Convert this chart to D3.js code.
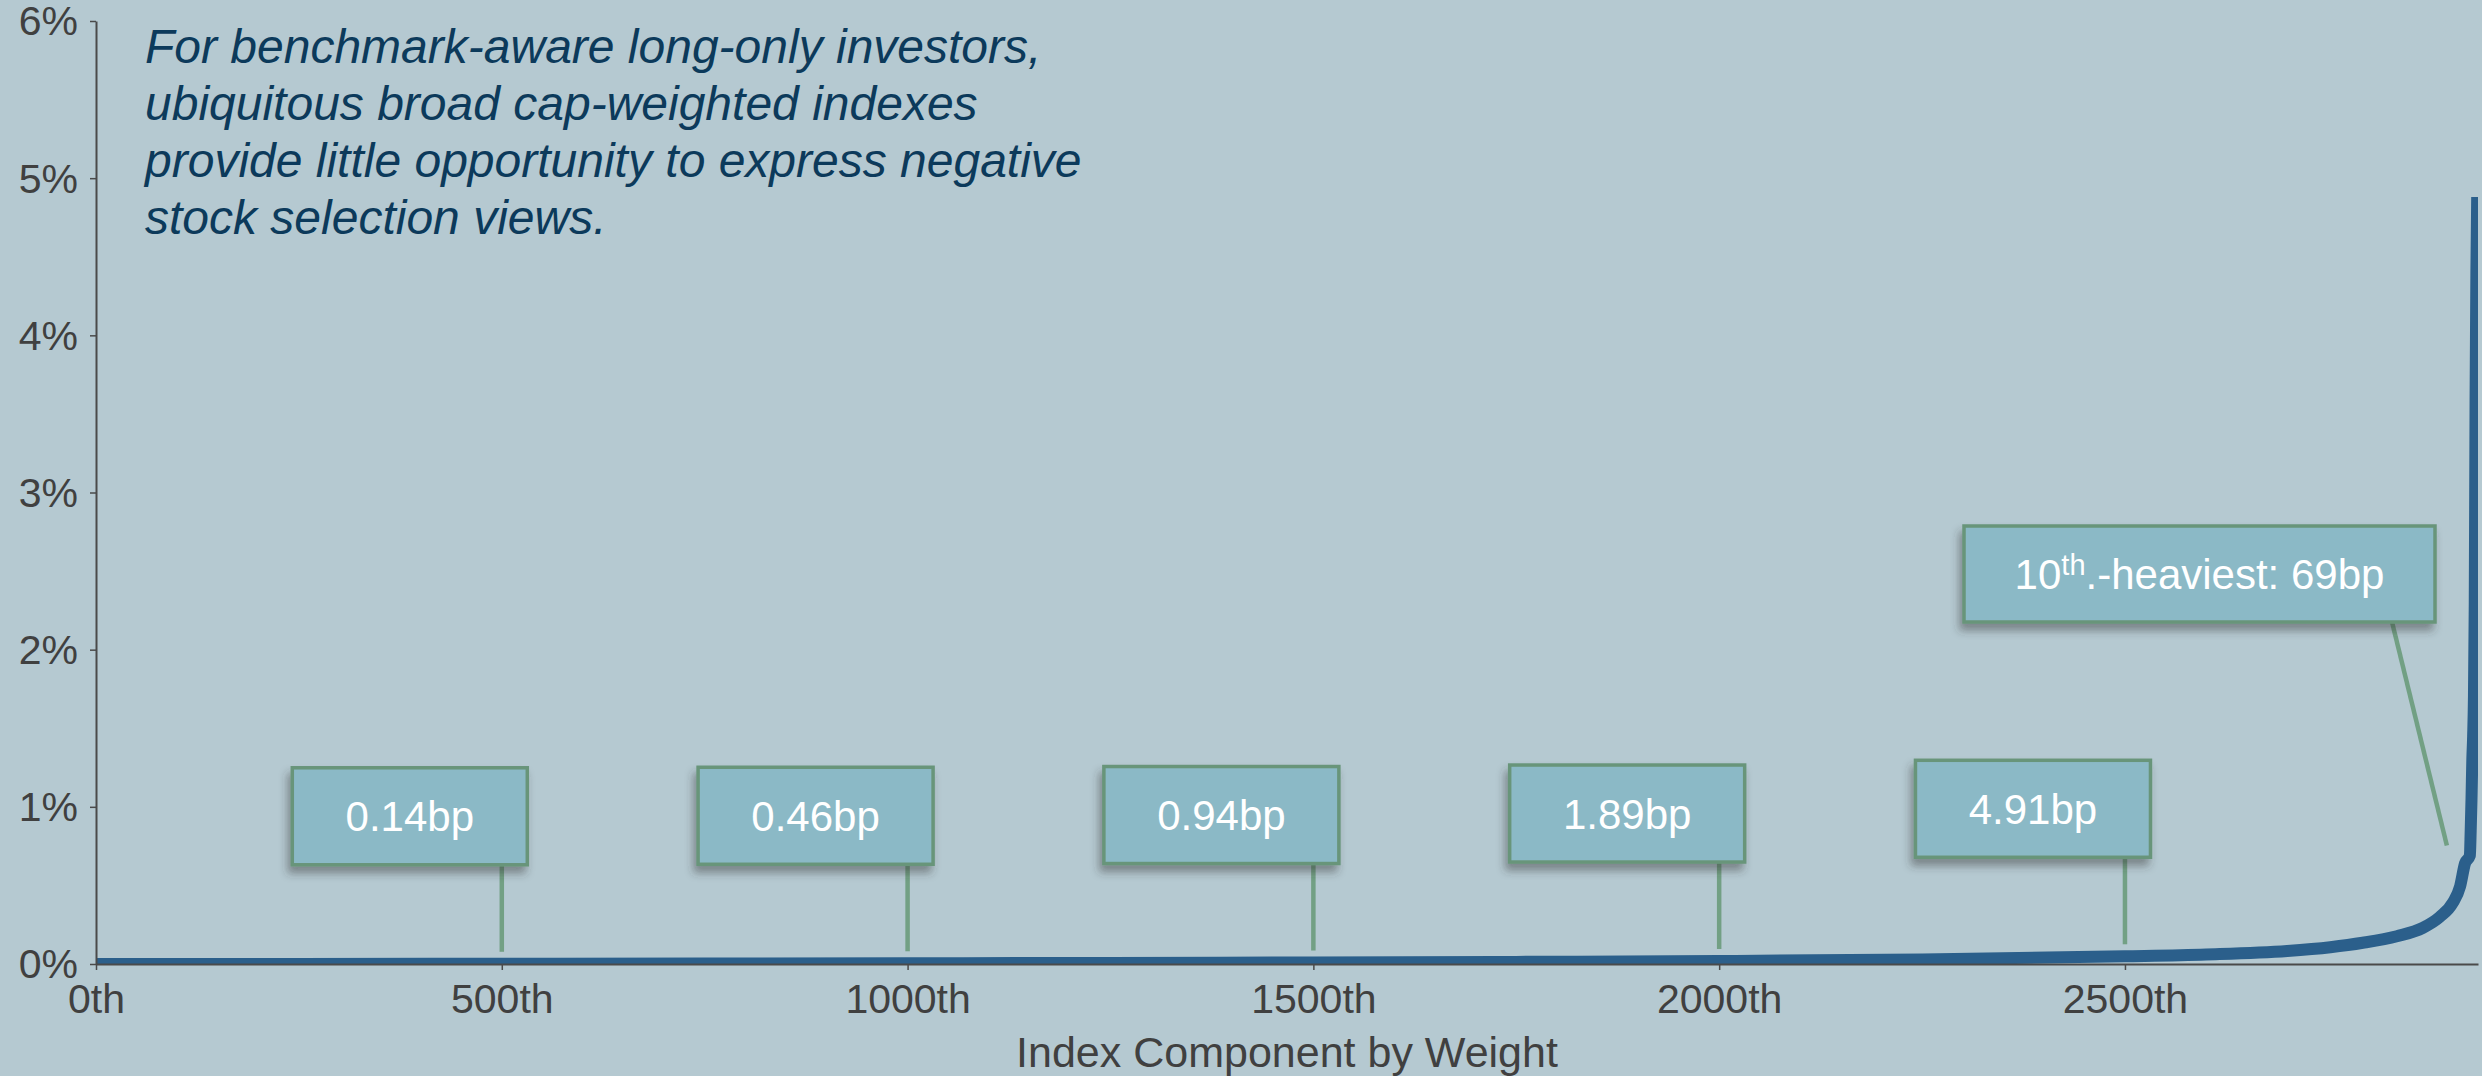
<!DOCTYPE html>
<html>
<head>
<meta charset="utf-8">
<script src="https://cdn.jsdelivr.net/npm/d3@7"></script>
<style>
  html, body { margin: 0; padding: 0; background: #b5c9d1; }
  svg { display: block; }
  text { font-family: "Liberation Sans", Arial, sans-serif; }
</style>
</head>
<body>
<svg id="chart" width="2482" height="1076"></svg>
<script>
// ---- data ----
const componentRank = [0, 250, 500, 750, 1000, 1250, 1500, 1750, 2000, 2250, 2500, 2600, 2700, 2753, 2793, 2835, 2867, 2888, 2904, 2913, 2919, 2925, 2926, 2927, 2928, 2929, 2930, 2931, 2932, 2933, 2934];
const componentWeight = [0.0001, 0.0006, 0.0014, 0.0028, 0.0046, 0.0068, 0.0094, 0.0135, 0.0189, 0.029, 0.0491, 0.061, 0.083, 0.107, 0.135, 0.177, 0.23, 0.30, 0.39, 0.495, 0.64, 0.69, 0.85, 1.05, 1.3, 1.45, 1.7, 2.3, 3.6, 4.4, 4.88];
const xTicks = [0, 500, 1000, 1500, 2000, 2500];
const xTickLabels = ["0th", "500th", "1000th", "1500th", "2000th", "2500th"];
const yTicks = [0, 1, 2, 3, 4, 5, 6];
const yTickLabels = ["0%", "1%", "2%", "3%", "4%", "5%", "6%"];
const calloutRank = [500, 1000, 1500, 2000, 2500];
const calloutWeight = [0.0014, 0.0046, 0.0094, 0.0189, 0.0491];
const calloutLabel = ["0.14bp", "0.46bp", "0.94bp", "1.89bp", "4.91bp"];
const heavyRank = 2925;
const heavyWeight = 0.69;
const heavyLabelMain = "10";
const heavyLabelSup = "th";
const heavyLabelRest = ".-heaviest: 69bp";
const noteLines = [
  "For benchmark-aware long-only investors,",
  "ubiquitous broad cap-weighted indexes",
  "provide little opportunity to express negative",
  "stock selection views."
];
const xTitle = "Index Component by Weight";

// ---- layout ----
const pLeft = 96, pRight = 2478, pTop = 21, pBottom = 964;
const svg = d3.select("#chart");
const x = d3.scaleLinear().domain([0, 2935]).range([pLeft, pRight]);
const y = d3.scaleLinear().domain([0, 6]).range([pBottom, pTop]);

const defs = svg.append("defs");
defs.append("clipPath").attr("id", "plotclip")
  .append("rect").attr("x", pLeft).attr("y", 0).attr("width", pRight - pLeft).attr("height", pBottom);
const f = defs.append("filter").attr("id", "shadow").attr("x", "-20%").attr("y", "-20%").attr("width", "140%").attr("height", "160%");
f.append("feDropShadow").attr("dx", -3).attr("dy", 7).attr("stdDeviation", 4)
  .attr("flood-color", "#333").attr("flood-opacity", 0.45);

// background
svg.append("rect").attr("width", 2482).attr("height", 1076).attr("fill", "#b5c9d1");

// note text
const note = svg.append("text")
  .attr("font-style", "italic").attr("font-size", 48).attr("fill", "#0c3a5b");
noteLines.forEach((t, i) => {
  note.append("tspan").attr("x", 145).attr("y", 63 + i * 57).text(t);
});

// curve
const pts = componentRank.map((r, i) => [r, componentWeight[i]]);
svg.append("path")
  .datum(pts)
  .attr("clip-path", "url(#plotclip)")
  .attr("fill", "none")
  .attr("stroke", "#2b5f8b")
  .attr("stroke-width", 12)
  .attr("stroke-linejoin", "round")
  .attr("d", d3.line().x(d => x(d[0])).y(d => y(d[1])).curve(d3.curveMonotoneX));

// axes
const axisColor = "#4a4a4a";
const gx = svg.append("g").attr("transform", `translate(0,${pBottom})`)
  .call(d3.axisBottom(x).tickValues(xTicks).tickFormat((d, i) => xTickLabels[i]).tickSize(6).tickSizeOuter(0).tickPadding(14));
const gy = svg.append("g").attr("transform", `translate(${pLeft},0)`)
  .call(d3.axisLeft(y).tickValues(yTicks).tickFormat((d, i) => yTickLabels[i]).tickSize(6).tickSizeOuter(0).tickPadding(12));
[gx, gy].forEach(g => {
  g.select(".domain").attr("stroke", axisColor).attr("stroke-width", 2);
  g.selectAll(".tick line").attr("stroke", axisColor).attr("stroke-width", 1.5);
  g.selectAll(".tick text").attr("fill", "#404040").attr("font-size", 41)
    .attr("font-family", "'Liberation Sans', Arial, sans-serif");
});
gx.selectAll(".tick text").attr("dy", "0.71em");
gy.selectAll(".tick text").attr("dy", "0.34em");

svg.append("text")
  .attr("x", (pLeft + pRight) / 2).attr("y", 1067)
  .attr("text-anchor", "middle").attr("font-size", 43).attr("fill", "#404040")
  .text(xTitle);

// callouts
const boxFill = "#8bb9c6", boxStroke = "#68957a", leadColor = "#72a084";
const bw = 235, bh = 97;
calloutRank.forEach((r, i) => {
  const lx = x(r);
  const ly2 = y(calloutWeight[i]) - 12;
  const ly1 = ly2 - 87;
  svg.append("line").attr("x1", lx).attr("x2", lx).attr("y1", ly1).attr("y2", ly2)
    .attr("stroke", leadColor).attr("stroke-width", 4.5);
  const bx = lx - 92 - bw / 2;
  const by = ly1 - bh;
  svg.append("rect").attr("x", bx).attr("y", by).attr("width", bw).attr("height", bh)
    .attr("fill", boxFill).attr("stroke", boxStroke).attr("stroke-width", 3.5)
    .attr("filter", "url(#shadow)");
  svg.append("text").attr("x", bx + bw / 2).attr("y", by + bh / 2).attr("dy", "0.36em")
    .attr("text-anchor", "middle").attr("font-size", 42).attr("fill", "#ffffff")
    .text(calloutLabel[i]);
});

// heaviest callout
{
  const px = x(heavyRank), py = y(heavyWeight);
  const bx = 1964, by = 526, w = 471, h = 96;
  svg.append("line").attr("x1", bx + w - 43).attr("y1", by + h).attr("x2", px - 23).attr("y2", py - 10)
    .attr("stroke", leadColor).attr("stroke-width", 4.5);
  svg.append("rect").attr("x", bx).attr("y", by).attr("width", w).attr("height", h)
    .attr("fill", boxFill).attr("stroke", boxStroke).attr("stroke-width", 3.5)
    .attr("filter", "url(#shadow)");
  const t = svg.append("text").attr("x", bx + w / 2).attr("y", by + h / 2).attr("dy", "0.36em")
    .attr("text-anchor", "middle").attr("font-size", 42).attr("fill", "#ffffff");
  t.append("tspan").text(heavyLabelMain);
  t.append("tspan").attr("font-size", 29).attr("dy", "-0.5em").text(heavyLabelSup);
  t.append("tspan").attr("font-size", 42).attr("dy", "0.345em").text(heavyLabelRest);
}
</script>
</body>
</html>
